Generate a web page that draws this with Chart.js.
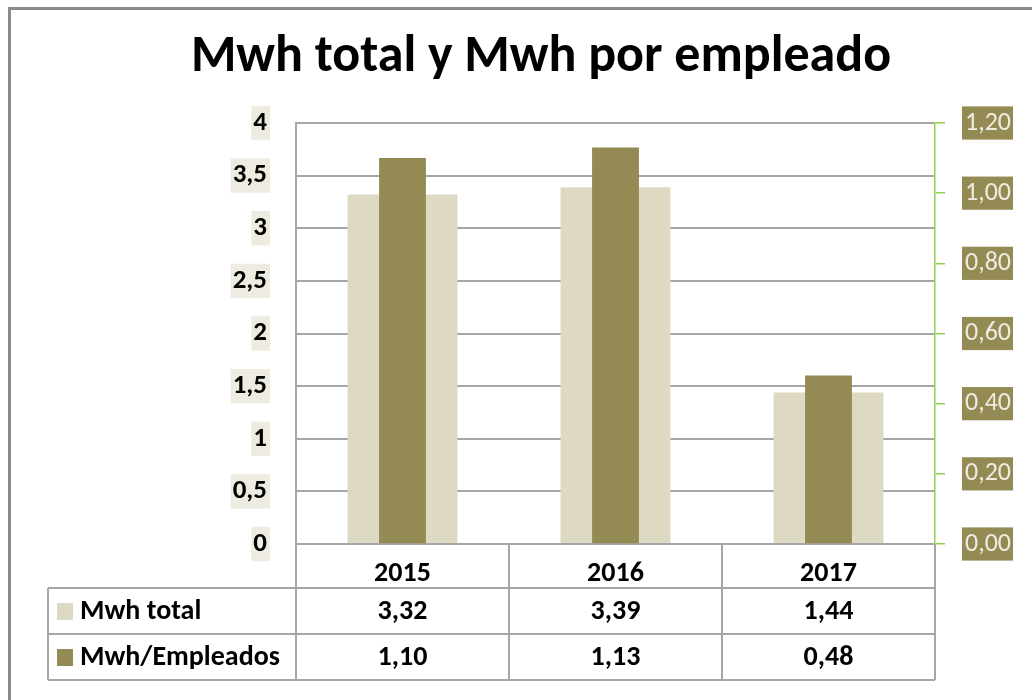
<!DOCTYPE html>
<html lang="es">
<head>
<meta charset="utf-8">
<title>Mwh total y Mwh por empleado</title>
<script src="https://cdn.jsdelivr.net/npm/chart.js@4.4.1/dist/chart.umd.min.js"></script>
<style>
  html, body { margin: 0; padding: 0; background: #fff; }
  canvas { display: block; }
</style>
</head>
<body>
<canvas id="chart" width="1032" height="700"></canvas>
<script>
// data
const years = ['2015', '2016', '2017'];
const mwhTotal = [3.32, 3.39, 1.44];
const mwhPorEmpleado = [1.10, 1.13, 0.48];
const seriesNames = ['Mwh total', 'Mwh/Empleados'];
const titleText = 'Mwh total y Mwh por empleado';

const FONT = 'Carlito, Lato, "Open Sans", sans-serif';
const BEIGE = '#ddd9c3';
const OLIVE = '#948a54';
const GRID = '#a6a6a6';
const GREEN = '#92d050';

const comma = (v, d) => (d == null ? String(+v.toFixed(2)) : v.toFixed(d)).replace('.', ',');

// frame, title and the data table under the plot
const tablePlugin = {
  id: 'dataTable',
  beforeDraw(chart) {
    const ctx = chart.ctx;
    ctx.save();
    ctx.fillStyle = '#fff';
    ctx.fillRect(0, 0, chart.width, chart.height);
    ctx.strokeStyle = '#8a8a8a';
    ctx.lineWidth = 3;
    ctx.beginPath();
    ctx.moveTo(9.5, chart.height);
    ctx.lineTo(9.5, 8.5);
    ctx.lineTo(chart.width, 8.5);
    ctx.stroke();
    ctx.restore();
  },
  afterDraw(chart) {
    const { ctx, chartArea: a, scales: { x } } = chart;
    ctx.save();

    // title
    ctx.fillStyle = '#000';
    ctx.font = 'bold 52px ' + FONT;
    ctx.textAlign = 'center';
    ctx.textBaseline = 'middle';
    ctx.fillText(titleText, 541, 58);

    // table grid
    const half = (x.getPixelForValue(1) - x.getPixelForValue(0)) / 2;
    const edges = years.map((_, i) => x.getPixelForValue(i) - half);
    edges.push(a.right);
    const legendLeft = 48;
    const rows = [a.bottom, a.bottom + 44, a.bottom + 90, a.bottom + 136];

    ctx.strokeStyle = GRID;
    ctx.lineWidth = 2;
    ctx.beginPath();
    for (let r = 1; r < rows.length; r++) {
      ctx.moveTo(legendLeft, rows[r]);
      ctx.lineTo(a.right, rows[r]);
    }
    ctx.moveTo(legendLeft, rows[1]);
    ctx.lineTo(legendLeft, rows[3]);
    edges.forEach(e => {
      ctx.moveTo(e, rows[0]);
      ctx.lineTo(e, rows[3]);
    });
    ctx.stroke();

    // table rows
    const series = [mwhTotal, mwhPorEmpleado];
    const colors = [BEIGE, OLIVE];
    ctx.font = 'bold 28px ' + FONT;
    ctx.textBaseline = 'middle';
    series.forEach((vals, r) => {
      const cy = (rows[r + 1] + rows[r + 2]) / 2;
      ctx.fillStyle = colors[r];
      ctx.fillRect(57, cy - 8, 16, 17);
      ctx.fillStyle = '#000';
      ctx.textAlign = 'left';
      ctx.fillText(seriesNames[r], 80, cy + 1);
      ctx.textAlign = 'center';
      vals.forEach((v, i) => ctx.fillText(comma(v, 2), x.getPixelForValue(i), cy + 1));
    });
    ctx.restore();
  }
};

new Chart(document.getElementById('chart'), {
  type: 'bar',
  data: {
    labels: years,
    datasets: [
      {
        label: seriesNames[0],
        data: mwhTotal,
        yAxisID: 'y',
        backgroundColor: BEIGE,
        grouped: false,
        order: 1,
        categoryPercentage: 1,
        barPercentage: 0.516,
      },
      {
        label: seriesNames[1],
        data: mwhPorEmpleado,
        yAxisID: 'y1',
        backgroundColor: OLIVE,
        grouped: false,
        order: 0,
        categoryPercentage: 1,
        barPercentage: 0.22,
      },
    ],
  },
  options: {
    responsive: false,
    animation: false,
    devicePixelRatio: 1,
    layout: { padding: { top: 123, left: 10, right: 0, bottom: 20 } },
    plugins: {
      legend: { display: false },
      title: { display: false },
      tooltip: { enabled: false },
    },
    scales: {
      x: {
        grid: { display: false },
        border: { display: false },
        ticks: { color: '#000', font: { family: FONT, size: 28, weight: 'bold' }, padding: 5 },
        afterFit: s => { s.height = 136; },
      },
      y: {
        position: 'left',
        min: 0,
        max: 4,
        ticks: {
          stepSize: 0.5,
          color: '#000',
          font: { family: FONT, size: 27, weight: 'bold' },
          padding: 29,
          callback: v => comma(v),
          showLabelBackdrop: true,
          backdropColor: '#eeece1',
          backdropPadding: { top: 1, bottom: 1, left: 2, right: 3 },
        },
        grid: { color: GRID, lineWidth: 2, drawTicks: false },
        border: { color: GRID, width: 2 },
        afterFit: s => { s.width = 286; },
      },
      y1: {
        position: 'right',
        min: 0,
        max: 1.2,
        ticks: {
          stepSize: 0.2,
          color: '#eeece1',
          font: { family: FONT, size: 26 },
          padding: 20,
          callback: v => comma(v, 2),
          showLabelBackdrop: true,
          backdropColor: OLIVE,
          backdropPadding: { top: 1, bottom: 1, left: 3, right: 2 },
        },
        grid: { drawOnChartArea: false, color: GREEN, lineWidth: 1.5, tickLength: 10 },
        border: { color: GREEN, width: 1.5 },
        afterFit: s => { s.width = 97; },
      },
    },
  },
  plugins: [tablePlugin],
});
</script>
</body>
</html>
